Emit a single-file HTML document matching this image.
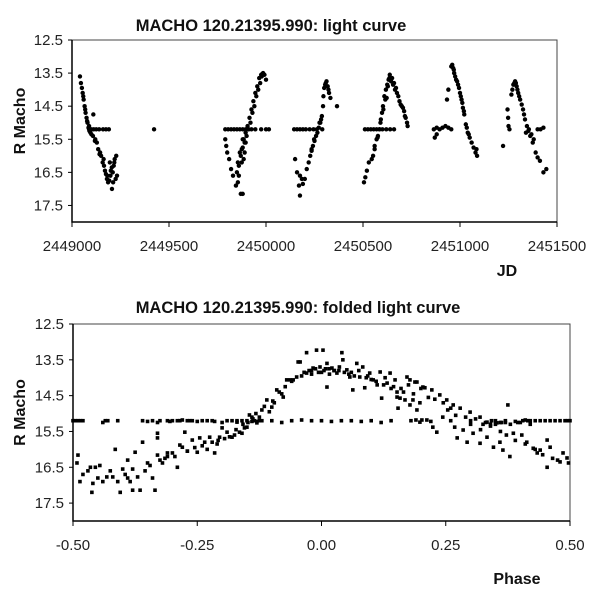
<!DOCTYPE html>
<html><head><meta charset="utf-8"><style>
html,body{margin:0;padding:0;background:#fff;}
svg{display:block;font-family:"Liberation Sans",Arial,sans-serif;}
</style></head><body>
<svg id="c" width="600" height="600" viewBox="0 0 600 600"></svg>
<script>
// ---- Top chart data (JD offset from 2449000, R mag) ----
const topJd = [41,46,51,55,60,65,70,75,80,85,90,95,100,110,120,128,135,142,150,158,165,170,175,180,186,192,198,206,210,215,220,225,228,232,205,195,
88,100,112,125,140,160,175,190,
423,
790,805,820,835,850,865,880,895,910,925,945,975,1000,1015,
850,860,870,880,890,900,910,920,930,940,950,960,970,978,985,992,1000,
790,795,800,810,820,830,845,855,870,880,860,875,885,890,880,895,
1145,1160,1175,1190,1205,1225,1245,
1150,1160,1170,1175,1185,1190,1175,
1200,1210,1220,1228,1235,1242,1250,1258,1265,1272,1280,1288,1294,1296,1305,1312,1318,1325,1332,1366,1290,
1510,1525,1540,1555,1570,1585,1600,1620,1640,1660,
1505,1512,1520,1530,1545,1552,1560,1570,1577,1585,1592,1598,1603,1610,1618,1625,1632,1638,1645,1655,1665,1675,1688,1700,1712,1720,1727,1730,1622,
1865,1880,1895,1910,1925,1940,1955,1870,1880,
1933,1940,1955,1960,1965,1970,1980,1990,2000,2008,2015,2022,2030,2040,2050,2060,2070,2080,2088,2085,
2222,2245,2248,2250,2255,2265,2275,2284,2292,2300,2310,2318,2325,2335,2345,2352,2362,2375,2390,2400,2412,2430,2445,2400,2415,2430,2340,
58,68,78,88,108,118,145,163,182,200,212,218,855,865,875,885,895,905,915,925,935,945,955,965,975,982,1235,1248,1262,1276,1284,1300,1308,1322,1560,1575,1590,1605,1615,1628,1636,1650,1660,1670,1682,1694,1706,1716,1958,1968,1975,1985,1995,2004,2012,2020,2035,2045,2270,2280,2288,2296,2305,2330,2355,2368,2380];
const topMag = [13.6,13.8,13.95,14.1,14.3,14.5,14.7,14.85,15.0,15.15,15.25,15.3,15.35,14.75,15.5,15.6,15.8,15.95,16.0,16.2,16.3,16.45,16.55,16.7,16.8,16.75,16.6,17.0,16.5,16.3,16.1,16.7,16.0,16.6,16.35,16.2,
15.2,15.2,15.2,15.2,15.2,15.2,15.2,15.2,
15.2,
15.2,15.2,15.2,15.2,15.2,15.2,15.2,15.2,15.2,15.2,15.2,15.2,15.2,15.2,
16.5,16.3,16.0,15.75,15.6,15.4,15.2,15.0,14.7,14.5,14.2,14.0,13.8,13.6,13.5,13.55,13.7,
15.5,15.7,15.9,16.1,16.4,16.6,16.9,16.8,17.15,17.15,16.6,16.2,16.1,15.9,15.5,15.6,
15.2,15.2,15.2,15.2,15.2,15.2,15.2,
16.1,16.5,16.9,17.2,16.7,16.85,16.6,
16.7,16.4,16.2,16.0,15.85,15.7,15.55,15.4,15.3,15.15,15.0,14.8,14.5,14.2,13.85,13.75,13.9,14.1,14.25,14.5,15.2,
15.2,15.2,15.2,15.2,15.2,15.2,15.2,15.2,15.2,15.2,
16.8,16.65,16.45,16.2,16.1,16.0,15.7,15.5,15.4,15.2,14.9,14.7,14.5,14.2,14.0,13.85,13.7,13.55,13.75,13.85,14.0,14.1,14.35,14.5,14.65,14.85,15.0,15.1,14.25,
15.2,15.15,15.2,15.15,15.1,15.15,15.2,15.45,15.35,
14.3,14.0,13.3,13.25,13.35,13.5,13.7,13.85,14.1,14.3,14.55,14.75,15.05,15.3,15.45,15.6,15.75,15.9,16.0,15.8,
15.7,14.6,14.85,15.1,15.2,14.15,13.85,13.75,13.9,14.1,14.3,14.45,14.6,14.9,15.1,15.25,15.4,15.6,15.9,16.05,16.15,16.5,16.4,15.2,15.2,15.15,15.3,
14.2,14.6,14.95,15.1,15.4,15.55,15.9,16.1,16.6,16.45,16.8,16.2,16.2,15.9,15.8,15.5,15.3,15.1,14.85,14.6,14.35,14.1,13.9,13.65,13.55,13.52,15.8,15.5,15.2,15.0,14.9,13.95,13.8,14.0,15.8,15.45,15.0,14.6,14.3,13.9,13.65,13.65,13.8,13.95,14.2,14.45,14.55,14.8,13.3,13.4,13.6,13.75,13.95,14.2,14.4,14.65,15.15,15.35,14.0,13.8,13.8,14.0,14.2,14.75,15.2,15.35,15.5];
const topXTicks = ["2449000","2449500","2450000","2450500","2451000","2451500"];
const magTicks = ["12.5","13.5","14.5","15.5","16.5","17.5"];

// ---- Bottom chart data (phase, R mag) ----
const flatPhase = [-0.5,-0.495,-0.49,-0.485,-0.48,-0.44,-0.43,-0.41,-0.36,-0.35,-0.34,-0.33,-0.31,-0.3,-0.29,-0.28,-0.27,-0.26,-0.25,-0.23,-0.22,-0.2,-0.18,-0.16,-0.15,-0.13,-0.12,-0.1,-0.08,-0.06,-0.04,-0.02,0.0,0.02,0.04,0.06,0.08,0.1,0.12,0.14,0.18,0.22,0.26,0.3,0.33,0.35,0.37,0.39,0.41,0.42,0.43,0.44,0.45,0.47,0.48,0.49,0.5,-0.435,-0.325,-0.305,-0.285,-0.265,-0.24,-0.215,-0.19,-0.17,-0.14,-0.125,0.34,0.36,0.38,0.395,0.405,0.415,0.46,0.495];
const flatMag = [15.2,15.2,15.2,15.2,15.2,15.25,15.2,15.2,15.2,15.22,15.2,15.25,15.2,15.2,15.2,15.18,15.2,15.2,15.22,15.2,15.2,15.25,15.2,15.2,15.2,15.22,15.2,15.2,15.25,15.2,15.18,15.2,15.2,15.22,15.2,15.2,15.22,15.2,15.25,15.2,15.2,15.22,15.2,15.2,15.25,15.2,15.2,15.22,15.18,15.2,15.2,15.2,15.2,15.2,15.2,15.2,15.2,15.2,15.2,15.22,15.2,15.2,15.2,15.22,15.2,15.2,15.22,15.2,15.3,15.25,15.3,15.25,15.2,15.2,15.2,15.2];
const curvePhase = [-0.492,-0.49,-0.486,-0.462,-0.46,-0.446,-0.432,-0.415,-0.42,-0.405,-0.39,-0.39,-0.38,-0.375,-0.37,-0.365,-0.36,-0.35,-0.34,-0.335,-0.33,-0.33,-0.33,-0.325,-0.32,-0.31,-0.3,-0.285,-0.28,-0.275,-0.26,-0.25,-0.245,-0.235,-0.225,-0.215,-0.205,-0.2,-0.19,-0.18,-0.17,-0.165,-0.15,-0.145,-0.14,-0.13,-0.12,-0.11,-0.1,-0.09,-0.077,-0.07,-0.057,-0.047,
-0.063,-0.05,-0.043,-0.03,-0.03,-0.017,-0.01,-0.003,0.003,0.011,0.011,0.021,0.031,0.041,0.043,0.051,0.057,0.063,0.071,0.077,0.083,0.087,0.097,0.104,0.118,0.121,0.132,0.138,0.152,0.154,0.158,0.172,0.178,0.184,0.192,0.198,0.202,0.208,0.19,
0.148,0.188,0.204,0.222,0.238,0.252,0.265,0.279,0.299,0.319,0.333,0.353,0.375,0.152,0.168,0.178,0.192,0.198,0.212,0.224,0.232,0.244,0.254,0.268,0.273,0.285,0.293,0.305,0.319,0.333,0.346,0.359,0.365,0.379,0.386,0.403,0.413,0.426,0.434,0.44,0.454,0.454,0.46,0.48,0.486,0.494,0.497,
-0.47,-0.455,-0.44,-0.4,-0.385,-0.355,-0.31,-0.29,-0.27,-0.24,-0.23,-0.21,-0.195,-0.175,-0.16,-0.155,-0.135,-0.125,-0.105,-0.095,-0.08,-0.02,0.0,0.015,0.025,0.035,0.06,0.09,0.11,0.125,0.14,0.165,0.3,0.32,0.34,0.36,0.4,0.42,0.35,0.37,
-0.48,-0.465,-0.45,-0.425,-0.41,-0.395,-0.38,-0.345,-0.315,-0.295,-0.27,-0.255,-0.22,-0.208,-0.185,-0.172,-0.158,-0.148,-0.138,-0.132,-0.115,-0.098,-0.085,-0.073,-0.06,-0.04,-0.035,-0.025,-0.02,-0.012,-0.006,0.005,0.008,0.016,0.026,0.036,0.046,0.055,0.066,0.075,0.093,0.1,0.112,0.128,0.145,0.16,0.175,0.185,0.2,0.215,0.228,0.245,0.26,0.27,0.29,0.31,0.325,0.342,0.362,0.372,0.39,0.41,0.43,0.445,0.465,0.475];
const curveMag = [16.38,16.16,16.9,17.2,16.95,16.45,16.77,16.0,16.77,17.2,16.3,16.8,17.14,16.08,16.77,17.14,15.8,16.38,16.8,17.14,15.55,15.68,16.16,16.3,16.38,16.1,16.1,15.88,15.94,15.52,15.74,16.08,15.68,15.8,15.66,16.1,15.66,15.4,15.52,15.66,15.24,15.52,15.38,15.04,15.1,15.26,14.9,14.62,14.82,14.34,14.54,14.06,14.06,13.56,
14.06,13.98,13.56,13.3,13.87,13.73,13.23,13.7,13.23,13.6,14.26,13.73,13.87,13.3,13.5,13.78,13.98,14.34,13.6,13.98,13.7,14.28,13.87,14.06,13.84,14.57,14.15,13.87,14.4,14.85,14.57,13.98,14.06,14.62,14.12,14.7,15.18,14.28,15.18,
14.06,14.12,14.26,14.34,14.48,14.62,14.76,14.85,14.96,15.1,15.24,15.26,14.76,14.54,14.62,14.76,14.9,15.24,15.18,15.38,15.52,15.1,14.9,15.38,15.68,15.46,15.8,15.55,15.83,15.66,15.94,15.8,16.02,16.2,15.55,15.6,15.8,15.97,16.1,16.02,16.5,15.74,15.94,16.35,16.1,16.24,16.38,
16.6,16.5,16.9,16.55,16.9,16.6,16.2,16.5,16.05,15.9,16.0,15.85,15.7,15.6,15.55,15.4,15.2,15.1,14.95,14.7,14.45,13.8,13.85,13.75,13.8,13.8,13.85,14.0,14.1,14.2,14.3,14.4,15.3,15.45,15.35,15.5,15.25,15.3,15.3,15.25,
16.7,16.5,16.8,16.6,16.9,16.7,16.55,16.45,16.25,16.2,16.05,15.95,15.8,15.75,15.65,15.45,15.3,15.25,15.15,15.0,14.8,14.65,14.4,14.25,14.1,13.95,13.85,13.8,13.9,13.75,13.85,13.8,13.75,13.9,13.8,13.7,13.85,13.9,13.95,13.8,13.95,14.05,14.2,14.0,14.25,14.3,14.2,14.45,14.3,14.55,14.6,14.7,14.85,15.05,15.1,15.15,15.3,15.2,15.25,15.6,15.75,15.85,16.0,16.15,16.25,16.3];
const phaseTicks = ["-0.50","-0.25","0.00","0.25","0.50"];

const NS = "http://www.w3.org/2000/svg";
const svg = document.getElementById("c");
function mk(tag, attrs, parent){const e=document.createElementNS(NS,tag);for(const k in attrs)e.setAttribute(k,attrs[k]);(parent||svg).appendChild(e);return e;}

const T = {x0:72,x1:557,y0:40,y1:222,xmin:2449000,xmax:2451500,ymin:12.5,ymax:18.0};
const B = {x0:73,x1:570,y0:324,y1:521,xmin:-0.5,xmax:0.5,ymin:12.5,ymax:18.0};
function sx(p,v){return p.x0+(v-p.xmin)/(p.xmax-p.xmin)*(p.x1-p.x0);}
function sy(p,v){return p.y0+(v-p.ymin)/(p.ymax-p.ymin)*(p.y1-p.y0);}

function panel(p, title, titleX, titleY, xTicks, xLabel, xLabelX, xLabelY, name){
  const g = mk("g",{});
  
  
  const fr = mk("rect",{x:p.x0,y:p.y0,width:p.x1-p.x0,height:p.y1-p.y0,fill:"#fff",stroke:"#444","stroke-width":1},g);
  
  
  const ax = mk("path",{d:`M${p.x0} ${p.y0}V${p.y1}H${p.x1}`,stroke:"#000","stroke-width":1.5,fill:"none"},g);
  
  
  const tt = mk("text",{x:titleX,y:titleY,"text-anchor":"middle","font-size":"16.5","font-weight":"bold",fill:"#111"},g);
  tt.textContent = title;
  
  
  magTicks.forEach(t=>{
    const y = sy(p, parseFloat(t));
    mk("line",{x1:p.x0-4,x2:p.x0,y1:y,y2:y,stroke:"#000"},g);
    const l = mk("text",{x:p.x0-9,y:y+5,"text-anchor":"end","font-size":"15",fill:"#222"},g);
    l.textContent = t;
    
    
  });
  xTicks.forEach(t=>{
    const x = sx(p, parseFloat(t));
    mk("line",{x1:x,x2:x,y1:p.y1,y2:p.y1+5,stroke:"#000"},g);
    const l = mk("text",{x:x,y:p.y1+29,"text-anchor":"middle","font-size":"15",fill:"#222"},g);
    l.textContent = t;
    
    
  });
  const cy = (p.y0+p.y1)/2 - 10;
  const yl = mk("text",{x:0,y:0,transform:`translate(25 ${cy}) rotate(-90)`,"text-anchor":"middle","font-size":"16","font-weight":"bold",fill:"#111"},g);
  yl.textContent = "R Macho";
  
  
  const xl = mk("text",{x:xLabelX,y:xLabelY,"text-anchor":"middle","font-size":"16","font-weight":"bold",fill:"#111"},g);
  xl.textContent = xLabel;
  
  
  return g;
}

const gt = panel(T,"MACHO 120.21395.990: light curve",271,31,topXTicks,"JD",507,276,"light-curve-panel");
const gb = panel(B,"MACHO 120.21395.990: folded light curve",298,313,phaseTicks,"Phase",517,584,"folded-curve-panel");

const topPts = mk("g",{fill:"#000"},gt);


for(let i=0;i<topJd.length;i++){
  const c = mk("circle",{cx:sx(T,2449000+topJd[i]),cy:sy(T,topMag[i]),r:2.2},topPts);
  
  
}
const botPts = mk("g",{fill:"#000"},gb);


function sq(px,m){
  const r = mk("rect",{x:sx(B,px)-1.8,y:sy(B,m)-1.8,width:3.6,height:3.6},botPts);
  
  
}
for(let i=0;i<flatPhase.length;i++) sq(flatPhase[i],flatMag[i]);
for(let i=0;i<curvePhase.length;i++) sq(curvePhase[i],curveMag[i]);
</script>
</body></html>
